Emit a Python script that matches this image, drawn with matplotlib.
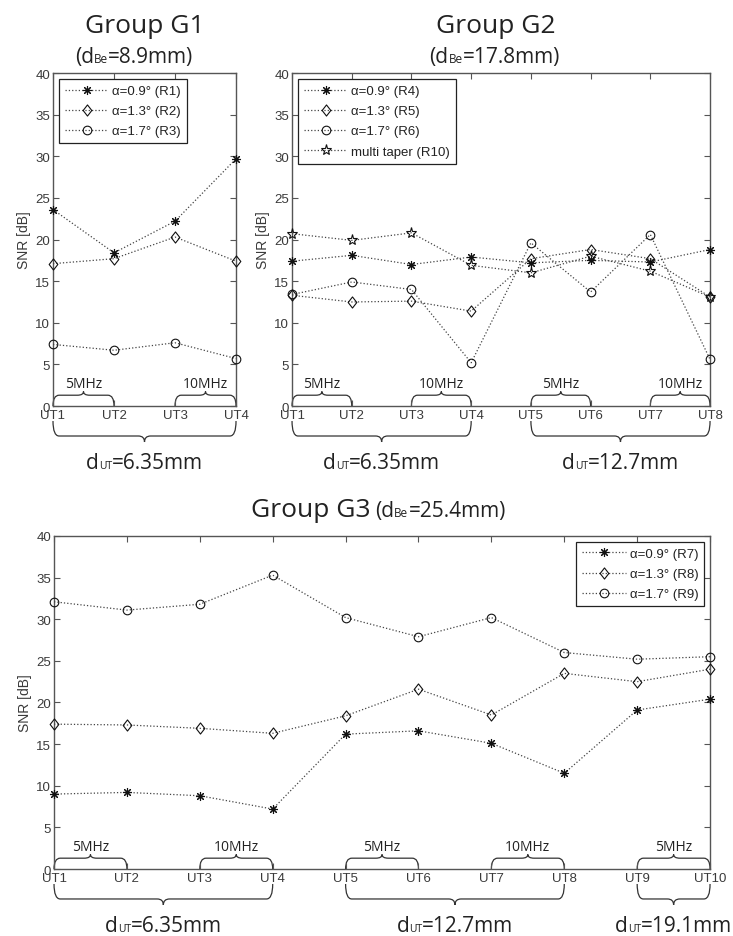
import matplotlib
matplotlib.use("Agg")
import matplotlib.pyplot as plt
from matplotlib.path import Path
from matplotlib.patches import PathPatch
from matplotlib.transforms import blended_transform_factory

plt.rcParams['font.family'] = ['Liberation Sans', 'DejaVu Sans']

TITLE_FONT = ['Open Sans', 'DejaVu Sans']
GREY = '#3a3a3a'

# ---- data ----
g1_ticks = ['UT1', 'UT2', 'UT3', 'UT4']
g1_r1 = [23.6, 18.4, 22.2, 29.7]
g1_r2 = [17.1, 17.7, 20.3, 17.4]
g1_r3 = [7.4, 6.7, 7.6, 5.7]
g1_labels = ['α=0.9° (R1)', 'α=1.3° (R2)', 'α=1.7° (R3)']

g2_ticks = ['UT1', 'UT2', 'UT3', 'UT4', 'UT5', 'UT6', 'UT7', 'UT8']
g2_r4 = [17.4, 18.1, 17.0, 17.9, 17.2, 17.5, 17.3, 18.8]
g2_r5 = [13.3, 12.5, 12.6, 11.4, 17.7, 18.8, 17.7, 13.1]
g2_r6 = [13.4, 14.9, 14.0, 5.2, 19.6, 13.7, 20.6, 5.6]
g2_r10 = [20.7, 19.9, 20.8, 16.9, 16.0, 18.0, 16.2, 13.1]
g2_labels = ['α=0.9° (R4)', 'α=1.3° (R5)', 'α=1.7° (R6)', 'multi taper (R10)']

g3_ticks = ['UT1', 'UT2', 'UT3', 'UT4', 'UT5', 'UT6', 'UT7', 'UT8', 'UT9', 'UT10']
g3_r7 = [9.0, 9.2, 8.8, 7.2, 16.2, 16.6, 15.1, 11.5, 19.1, 20.4]
g3_r8 = [17.4, 17.3, 16.9, 16.3, 18.4, 21.6, 18.5, 23.5, 22.5, 24.0]
g3_r9 = [32.1, 31.1, 31.8, 35.3, 30.2, 27.9, 30.2, 26.0, 25.2, 25.5]
g3_labels = ['α=0.9° (R7)', 'α=1.3° (R8)', 'α=1.7° (R9)']

# frequency groups (first UT, last UT, label) and diameter groups
g1_freq = [(1, 2, '5MHz'), (3, 4, '10MHz')]
g1_dut = [(1, 4, '6.35')]
g2_freq = [(1, 2, '5MHz'), (3, 4, '10MHz'), (5, 6, '5MHz'), (7, 8, '10MHz')]
g2_dut = [(1, 4, '6.35'), (5, 8, '12.7')]
g3_freq = [(1, 2, '5MHz'), (3, 4, '10MHz'), (5, 6, '5MHz'), (7, 8, '10MHz'), (9, 10, '5MHz')]
g3_dut = [(1, 4, '6.35'), (5, 8, '12.7'), (9, 10, '19.1')]

diamond = Path([(0, 1), (0.78, 0), (0, -1), (-0.78, 0), (0, 1)],
               [Path.MOVETO, Path.LINETO, Path.LINETO, Path.LINETO, Path.CLOSEPOLY])
markers = [(8, 2, 0), diamond, 'o', '*']
msizes = [6.5, 8, 6.2, 8]

fig = plt.figure(figsize=(7.33, 9.37), dpi=100)
renderer = fig.canvas.get_renderer()


def rich_text(x, y, parts, trans, ha='center'):
    # pieces of text sharing one baseline; (string, fontsize)
    texts = [fig.text(0, 0, s, fontsize=fs, family=TITLE_FONT, va='baseline',
                      color='#222222') for s, fs in parts]
    widths = [t.get_window_extent(renderer).width for t in texts]
    px, py = trans.transform((x, y))
    total = sum(widths)
    start = px - total / 2 if ha == 'center' else (px - total if ha == 'right' else px)
    inv = fig.transFigure.inverted()
    for t, w in zip(texts, widths):
        t.set_position(inv.transform((start, py)))
        start += w


def brace(ax, x0, x1, y_end, y_mid, y_tip, r, trans):
    xm = (x0 + x1) / 2
    verts = [(x0, y_end), (x0, y_mid), (x0 + r, y_mid), (xm - r, y_mid),
             (xm, y_mid), (xm, y_tip), (xm, y_tip), (xm, y_mid),
             (xm + r, y_mid), (x1 - r, y_mid), (x1, y_mid), (x1, y_end)]
    codes = [Path.MOVETO, Path.CURVE3, Path.CURVE3, Path.LINETO,
             Path.CURVE3, Path.CURVE3, Path.MOVETO, Path.CURVE3,
             Path.CURVE3, Path.LINETO, Path.CURVE3, Path.CURVE3]
    ax.add_patch(PathPatch(Path(verts, codes), fill=False, lw=0.9,
                           ec='#333333', transform=trans, clip_on=False))


def draw_group(ax, ticks, series, labels, freq, dut, legend_loc, r):
    x = list(range(1, len(ticks) + 1))
    for vals, m, ms, lab in zip(series, markers, msizes, labels):
        ax.plot(x, vals, linestyle=':', color='#444444', lw=0.9,
                marker=m, ms=ms, mfc='none', mec='#111111', mew=0.8,
                label=lab, clip_on=False, zorder=3)
    ax.set_xlim(1, len(ticks))
    ax.set_ylim(0, 40)
    ax.set_yticks(range(0, 41, 5))
    ax.set_xticks(x)
    ax.set_xticklabels(ticks)
    ax.tick_params(direction='in', top=True, right=True, length=4,
                   width=0.8, colors='#555555', labelcolor=GREY,
                   labelsize=9.5, pad=2)
    for s in ax.spines.values():
        s.set_color('#555555')
        s.set_linewidth(1.0)
    ax.set_ylabel('SNR [dB]', fontsize=10, color=GREY, labelpad=3)
    leg = ax.legend(loc=legend_loc, fontsize=9.5, handlelength=3.3,
                    handletextpad=0.3, labelspacing=0.6, borderpad=0.45,
                    borderaxespad=0.45, fancybox=False, framealpha=1)
    leg.get_frame().set_edgecolor('#222222')
    leg.get_frame().set_linewidth(0.9)
    for t in leg.get_texts():
        t.set_color('#222222')

    for a, b, lab in freq:
        brace(ax, a, b, 0, 1.3, 1.75, r, ax.transData)
        ax.text((a + b) / 2, 1.85, lab, ha='center', va='bottom',
                fontsize=10, family=TITLE_FONT, color='#222222')
    trans = blended_transform_factory(ax.transData, ax.transAxes)
    for a, b, val in dut:
        brace(ax, a, b, -0.045, -0.09, -0.108, r, trans)
        rich_text((a + b) / 2, -0.185,
                  [('d', 15), ('UT', 7.5), ('=' + val + 'mm', 15)], trans)


ax1 = fig.add_axes([0.0723, 0.5656, 0.2497, 0.3554])
draw_group(ax1, g1_ticks, [g1_r1, g1_r2, g1_r3], g1_labels, g1_freq, g1_dut,
           'upper left', 0.1)

ax2 = fig.add_axes([0.3984, 0.5656, 0.5703, 0.3554])
draw_group(ax2, g2_ticks, [g2_r4, g2_r5, g2_r6, g2_r10], g2_labels, g2_freq,
           g2_dut, 'upper left', 0.1)

ax3 = fig.add_axes([0.0737, 0.0715, 0.8950, 0.3554])
draw_group(ax3, g3_ticks, [g3_r7, g3_r8, g3_r9], g3_labels, g3_freq, g3_dut,
           'upper right', 0.085)

fig.text(0.197, 0.9648, 'Group G1', ha='center', va='baseline',
         fontsize=19, family=TITLE_FONT, color='#222222')
rich_text(0.183, 0.9328, [('(d', 15), ('Be', 8.5), ('=8.9mm)', 15)],
          fig.transFigure)
fig.text(0.676, 0.9648, 'Group G2', ha='center', va='baseline',
         fontsize=19, family=TITLE_FONT, color='#222222')
rich_text(0.675, 0.9328, [('(d', 15), ('Be', 8.5), ('=17.8mm)', 15)],
          fig.transFigure)
fig.text(0.505, 0.448, 'Group G3', ha='right', va='baseline',
         fontsize=19, family=TITLE_FONT, color='#222222')
rich_text(0.512, 0.448, [('(d', 15), ('Be', 8.5), ('=25.4mm)', 15)],
          fig.transFigure, ha='left')

fig.savefig('out.png', dpi=100)
